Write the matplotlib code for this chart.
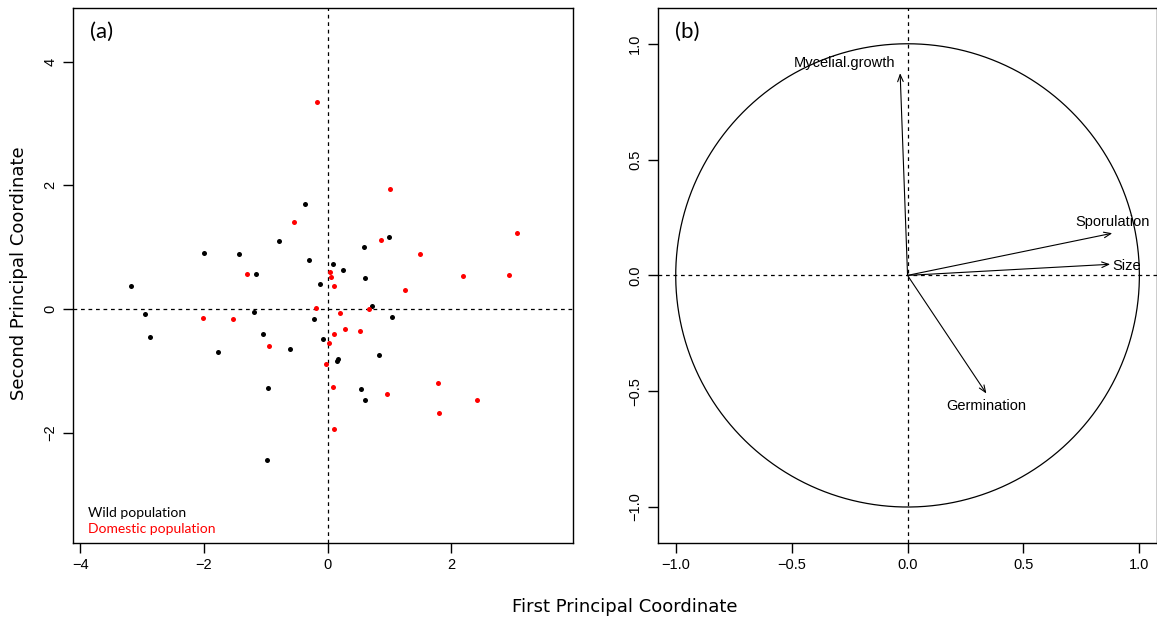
import numpy as np
import matplotlib
matplotlib.use("Agg")
import matplotlib.pyplot as plt

plt.rcParams['font.family'] = ['Liberation Sans', 'DejaVu Sans']

# PCoA scores
wild_x = [-0.36, -0.79, -2.00, -1.43, -0.30, -1.15, 0.99, 0.58, 0.09, 0.25,
          0.61, -0.12, 0.72, 1.04, -0.08, 0.83, 0.145, 0.17, 0.54, 0.61,
          -3.18, -2.95, -1.19, -0.22, -2.87, -1.05, -1.77, -0.60, -0.97, -0.98]
wild_y = [1.70, 1.09, 0.90, 0.89, 0.79, 0.56, 1.17, 1.00, 0.73, 0.63,
          0.50, 0.40, 0.05, -0.13, -0.49, -0.75, -0.84, -0.81, -1.29, -1.48,
          0.37, -0.09, -0.05, -0.17, -0.45, -0.41, -0.69, -0.65, -1.28, -2.45]
dom_x = [-0.17, -0.54, -1.30, 1.01, 0.87, 1.50, 3.06, 0.04, 0.06, 2.19,
         2.93, 0.11, 1.25, 0.67, 0.20, 0.28, 0.53, 0.10, 0.02, -0.02,
         0.086, 1.78, 0.96, 2.41, 1.80, 0.11, -0.19, -2.01, -1.53, -0.95]
dom_y = [3.35, 1.40, 0.57, 1.94, 1.12, 0.88, 1.23, 0.60, 0.51, 0.53,
         0.55, 0.37, 0.30, 0.00, -0.06, -0.33, -0.35, -0.40, -0.55, -0.89,
         -1.26, -1.19, -1.38, -1.48, -1.69, -1.94, 0.02, -0.14, -0.16, -0.60]

# correlation circle loadings
variables = ["Mycelial.growth", "Sporulation", "Size", "Germination"]
load_x = [-0.032, 0.883, 0.874, 0.34]
load_y = [0.873, 0.182, 0.048, -0.51]
label_offsets = [(-40, 7), (0, 8), (12, -1), (0, -9)]

fig = plt.figure(figsize=(11.57, 6.21), dpi=100)
ax1 = fig.add_axes([0.0628, 0.1261, 0.4327, 0.8605])
ax2 = fig.add_axes([0.5684, 0.1261, 0.4316, 0.8605])

def r_style(ax):
    for s in ax.spines.values():
        s.set_linewidth(1.0)
    ax.tick_params(direction='out', length=7, width=1, labelsize=10.5, pad=4,
                   top=False, right=False)
    for lab in ax.get_yticklabels():
        lab.set_rotation(90)
        lab.set_va('center')

# (a) scores
ax1.axhline(0, color='black', ls=(0, (3, 3)), lw=0.9)
ax1.axvline(0, color='black', ls=(0, (3, 3)), lw=0.9)
ax1.plot(wild_x, wild_y, 'o', color='black', ms=3.6, mec='none')
ax1.plot(dom_x, dom_y, 'o', color='red', ms=3.6, mec='none')
ax1.set_xlim(-4.12, 3.97)
ax1.set_ylim(-3.78, 4.86)
ax1.set_xticks([-4, -2, 0, 2])
ax1.set_yticks([-2, 0, 2, 4])
r_style(ax1)
ax1.text(0.035, 0.975, "(a)", transform=ax1.transAxes, fontsize=16,
         family=['Lato', 'DejaVu Sans'], va='top')
ax1.text(0.031, 0.056, "Wild population", transform=ax1.transAxes, fontsize=10,
         family=['Lato', 'DejaVu Sans'], color='black', va='center')
ax1.text(0.031, 0.026, "Domestic population", transform=ax1.transAxes, fontsize=10,
         family=['Lato', 'DejaVu Sans'], color='red', va='center')

# (b) correlation circle
t = np.linspace(0, 2 * np.pi, 400)
ax2.plot(np.cos(t), np.sin(t), color='black', lw=0.9)
ax2.axhline(0, color='black', ls=(0, (3, 3)), lw=0.9)
ax2.axvline(0, color='black', ls=(0, (3, 3)), lw=0.9)
for name, lx, ly, off in zip(variables, load_x, load_y, label_offsets):
    ax2.annotate("", xy=(lx, ly), xytext=(0, 0),
                 arrowprops=dict(arrowstyle='->,head_length=0.5,head_width=0.2',
                                 color='black', lw=0.8, shrinkA=0, shrinkB=0))
    ax2.annotate(name, xy=(lx, ly), xytext=off, textcoords='offset points',
                 ha='center', va='center', fontsize=10.5)
ax2.set_xlim(-1.078, 1.076)
ax2.set_ylim(-1.154, 1.153)
ax2.set_xticks([-1.0, -0.5, 0.0, 0.5, 1.0])
ax2.set_yticks([-1.0, -0.5, 0.0, 0.5, 1.0])
r_style(ax2)
ax2.text(0.035, 0.975, "(b)", transform=ax2.transAxes, fontsize=16,
         family=['Lato', 'DejaVu Sans'], va='top')

fig.text(0.540, 0.022, "First Principal Coordinate", ha='center', va='center',
         fontsize=13, family='DejaVu Sans')
fig.text(0.016, 0.56, "Second Principal Coordinate", ha='center', va='center',
         rotation=90, fontsize=13, family='DejaVu Sans')

fig.savefig("out.png", dpi=100)
